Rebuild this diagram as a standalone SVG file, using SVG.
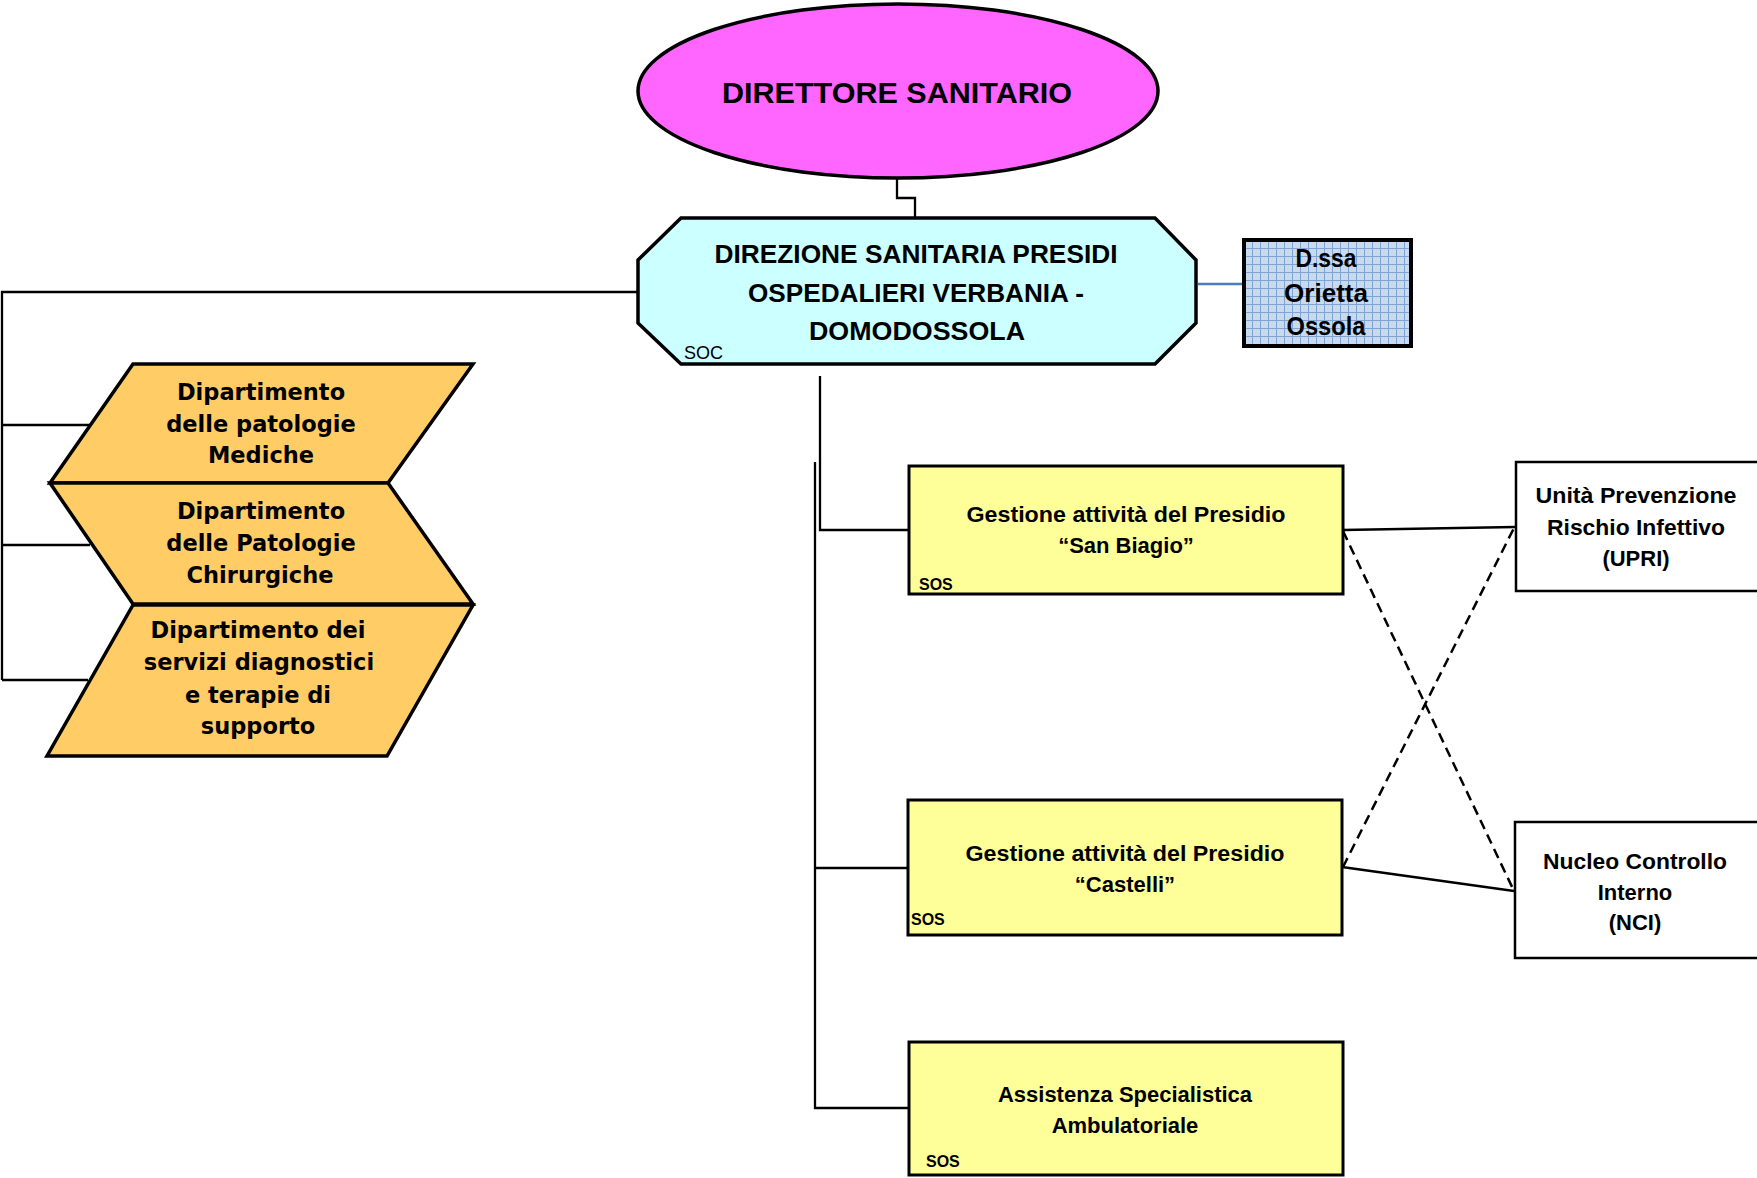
<svg xmlns="http://www.w3.org/2000/svg" width="1757" height="1178" viewBox="0 0 1757 1178">
<style>
.t{font-family:"Liberation Sans",Arial,sans-serif;font-weight:bold;fill:#000;text-anchor:middle}
.d{font-family:"DejaVu Sans","Liberation Sans",sans-serif;font-weight:bold;font-size:22.5px;fill:#000;text-anchor:middle}
.ln{fill:none;stroke:#000;stroke-width:2.3}
.dash{fill:none;stroke:#000;stroke-width:2.5;stroke-dasharray:10 6}
.dep{fill:#FFCC66;stroke:#000;stroke-width:3.5;stroke-linejoin:miter}
.yb{fill:#FFFF99;stroke:#000;stroke-width:3}
.wb{fill:#FFFFFF;stroke:#000;stroke-width:2.5}
.s{font-family:"Liberation Sans",Arial,sans-serif;font-weight:bold;font-size:16px;fill:#000}
</style>
<defs>
<pattern id="grid" x="1244" y="240" width="8" height="8" patternUnits="userSpaceOnUse">
<rect width="8" height="8" fill="#C9D9EE"/>
<path d="M0 0.5H8M0.5 0V8" stroke="#7FA3D3" stroke-width="1"/>
</pattern>
</defs>
<rect width="1757" height="1178" fill="#FFFFFF"/>
<g id="connectors">
<path class="ln" d="M897 178V198H915V218"/>
<path class="ln" d="M638 292H2V680"/>
<path class="ln" d="M2 425H90"/>
<path class="ln" d="M2 545H90"/>
<path class="ln" d="M2 680H88"/>
<path d="M1198 284H1243" fill="none" stroke="#4A7EBB" stroke-width="2.5"/>
<path class="ln" d="M820 376V530H909"/>
<path class="ln" d="M815 462V1108H909"/>
<path class="ln" d="M815 868H909"/>
<path class="ln" d="M1343 530L1515 527"/>
<path class="ln" d="M1342 867L1514 891"/>
<path class="dash" d="M1343 531L1514 891"/>
<path class="dash" d="M1343 867L1515 526"/>
</g>
<g id="direttore">
<ellipse cx="898" cy="91" rx="260" ry="87" fill="#FF66FF" stroke="#000" stroke-width="3.5"/>
<text class="t" x="897" y="103" font-size="30" textLength="350" lengthAdjust="spacingAndGlyphs">DIRETTORE SANITARIO</text>
</g>
<g id="direzione">
<polygon points="681,218 1155,218 1196,260 1196,323 1155,364 681,364 638,323 638,260" fill="#CCFFFF" stroke="#000" stroke-width="3.5"/>
<text class="t" x="916" y="263" font-size="26" textLength="403" lengthAdjust="spacingAndGlyphs">DIREZIONE SANITARIA PRESIDI</text>
<text class="t" x="916" y="302" font-size="26" textLength="336" lengthAdjust="spacingAndGlyphs">OSPEDALIERI VERBANIA -</text>
<text class="t" x="917" y="340" font-size="26" textLength="216" lengthAdjust="spacingAndGlyphs">DOMODOSSOLA</text>
<text x="684" y="359" font-family="Liberation Sans,Arial,sans-serif" font-size="18" fill="#000">SOC</text>
</g>
<g id="dssa">
<rect x="1244" y="240" width="167" height="106" fill="url(#grid)" stroke="#000" stroke-width="4"/>
<text class="t" x="1326" y="267" font-size="25" textLength="61" lengthAdjust="spacingAndGlyphs">D.ssa</text>
<text class="t" x="1326" y="302" font-size="25" textLength="84" lengthAdjust="spacingAndGlyphs">Orietta</text>
<text class="t" x="1326" y="335" font-size="25" textLength="79" lengthAdjust="spacingAndGlyphs">Ossola</text>
</g>
<g id="dip-mediche">
<polygon class="dep" points="133,364 473,364 388,483 50,483"/>
<text class="d" x="261" y="400">Dipartimento</text>
<text class="d" x="261" y="432">delle patologie</text>
<text class="d" x="261" y="463">Mediche</text>
</g>
<g id="dip-chirurgiche">
<polygon class="dep" points="50,483 388,483 473,604 133,604"/>
<text class="d" x="261" y="519">Dipartimento</text>
<text class="d" x="261" y="551">delle Patologie</text>
<text class="d" x="260" y="583">Chirurgiche</text>
</g>
<g id="dip-servizi">
<polygon class="dep" points="133,605 473,605 387,756 47,756"/>
<text class="d" x="258" y="638">Dipartimento dei</text>
<text class="d" x="259" y="670">servizi diagnostici</text>
<text class="d" x="258" y="703">e terapie di</text>
<text class="d" x="258" y="734">supporto</text>
</g>
<g id="san-biagio">
<rect class="yb" x="909" y="466" width="434" height="128"/>
<text class="t" x="1126" y="522" font-size="22" textLength="319" lengthAdjust="spacingAndGlyphs">Gestione attività del Presidio</text>
<text class="t" x="1126" y="553" font-size="22">“San Biagio”</text>
<text class="s" x="919" y="590">SOS</text>
</g>
<g id="castelli">
<rect class="yb" x="908" y="800" width="434" height="135"/>
<text class="t" x="1125" y="861" font-size="22" textLength="319" lengthAdjust="spacingAndGlyphs">Gestione attività del Presidio</text>
<text class="t" x="1125" y="892" font-size="22">“Castelli”</text>
<text class="s" x="911" y="925">SOS</text>
</g>
<g id="assistenza">
<rect class="yb" x="909" y="1042" width="434" height="133"/>
<text class="t" x="1125" y="1102" font-size="22" textLength="254" lengthAdjust="spacingAndGlyphs">Assistenza Specialistica</text>
<text class="t" x="1125" y="1133" font-size="22">Ambulatoriale</text>
<text class="s" x="926" y="1167">SOS</text>
</g>
<g id="upri">
<rect class="wb" x="1516" y="462" width="245" height="129"/>
<text class="t" x="1636" y="503" font-size="22" textLength="201" lengthAdjust="spacingAndGlyphs">Unità Prevenzione</text>
<text class="t" x="1636" y="535" font-size="22" textLength="178" lengthAdjust="spacingAndGlyphs">Rischio Infettivo</text>
<text class="t" x="1636" y="566" font-size="22">(UPRI)</text>
</g>
<g id="nci">
<rect class="wb" x="1515" y="822" width="246" height="136"/>
<text class="t" x="1635" y="869" font-size="22" textLength="184" lengthAdjust="spacingAndGlyphs">Nucleo Controllo</text>
<text class="t" x="1635" y="900" font-size="22">Interno</text>
<text class="t" x="1635" y="930" font-size="22">(NCI)</text>
</g>
</svg>
